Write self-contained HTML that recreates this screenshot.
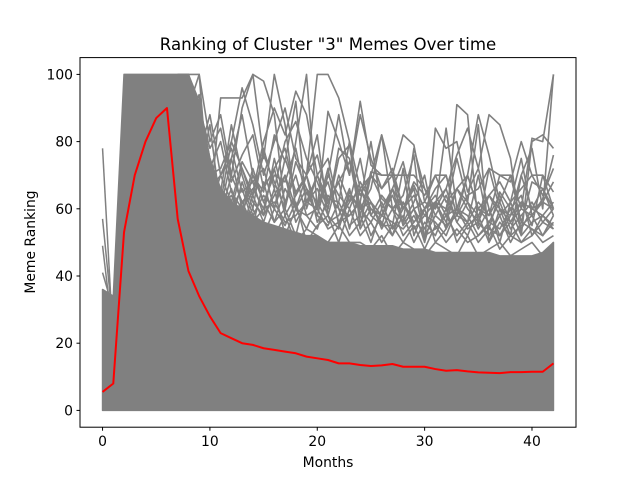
<!DOCTYPE html>
<html><head><meta charset="utf-8"><style>
body{margin:0;background:#fff;}
svg text{font-family:"DejaVu Sans","Liberation Sans",sans-serif;fill:#000;}
</style></head><body>
<svg id="chart" width="640" height="480">
<rect width="640" height="480" fill="#fff"/>
<text x="328" y="50" font-size="16.6" text-anchor="middle">Ranking of Cluster "3" Memes Over time</text>
<g id="plot"></g>
<g id="axes"></g>
<text x="328" y="467" font-size="13.9" text-anchor="middle">Months</text>
<text transform="translate(35,242) rotate(-90)" font-size="13.9" text-anchor="middle">Meme Ranking</text>
</svg>
<script>
const months=[...Array(43).keys()];
const meanRank=[5.5,8,53,70,80,87,90,57,41.5,34,28,23,21.5,20,19.5,18.5,18,17.5,17,16,15.5,15,14,14,13.5,13.2,13.4,13.8,13,13,13,12.3,11.8,12,11.6,11.3,11.2,11.1,11.4,11.4,11.5,11.5,14];
const denseUpper=[36,34,100,100,100,100,100,100,100,92,75,66,62,60,58,56,55,54,53,52,52,50,50,50,49,49,49,49,48,48,48,47,47,47,47,47,47,46,46,46,46,47,50];
const denseLower=[0,0,0,0,0,0,0,0,0,0,0,0,0,0,0,0,0,0,0,0,0,0,0,0,0,0,0,0,0,0,0,0,0,0,0,0,0,0,0,0,0,0,0];
const earlySpikes=[[78,20],[57,25],[49,22],[41,30]];
const sparseStart=8;
const sparseLines=[
[100,100,60,93,93,93,100,75,100,85,60,70,100,100,93,80,66,70,82,70,55,60,50,84,78,80,65,72,60,50,62,75,58,63,76],
[90,100,80,88,70,90,100,98,88,60,80,100,60,70,88,70,88,75,66,70,82,79,62,60,66,76,84,72,88,85,75,52,80,82,78],
[100,85,70,72,80,96,85,70,80,90,75,70,60,89,80,70,92,73,70,70,70,70,66,60,84,60,70,88,76,62,70,60,81,80,100],
[95,70,85,60,75,88,70,65,82,74,92,60,70,60,78,75,58,71,70,70,60,67,60,62,54,91,88,55,72,70,68,80,70,70,65],
[80,90,75,65,85,70,60,78,66,80,86,75,68,60,75,79,60,66,82,60,64,76,50,62,60,75,62,85,50,60,52,70,78,60,100],
[70,60,72,80,65,60,72,62,70,68,78,62,70,63,62,80,55,70,63,60,56,78,66,58,55,58,70,60,58,70,70,56,68,66,60],
[85,75,60,70,78,65,68,72,60,75,65,70,82,58,70,62,75,58,55,55,72,52,60,66,70,58,56,70,54,65,60,64,52,58,55],
[75,65,70,55,60,72,62,58,75,62,70,58,60,72,55,65,60,62,55,66,55,60,54,62,56,66,62,54,60,52,58,62,55,70,60],
[60,70,55,65,58,62,55,68,56,60,52,65,58,55,62,55,58,50,60,52,58,50,56,52,60,50,55,58,50,56,52,55,58,52,56],
[65,55,62,58,66,55,60,52,60,55,62,50,55,58,50,60,52,56,50,55,50,55,48,55,50,54,50,52,55,48,52,50,54,50,52],
[55,62,50,60,52,58,50,56,52,58,50,54,52,50,55,50,50,48,52,46,50,48,46,50,48,46,52,46,48,50,46,48,50,46,50],
[100,80,66,70,75,60,65,80,90,82,95,88,70,75,60,58,62,80,60,66,74,60,62,70,70,58,64,66,72,60,58,70,60,62,68],
[98,72,64,58,70,62,66,60,72,58,64,70,56,62,68,54,66,60,58,64,56,62,70,54,58,66,60,56,64,58,62,54,60,66,58],
[88,66,72,62,56,68,58,64,60,70,56,62,66,58,54,64,60,56,62,54,60,66,52,58,64,56,52,60,56,62,54,58,62,56,60],
[78,60,56,66,62,54,64,56,66,52,60,58,54,64,60,52,56,62,54,60,52,56,60,50,54,60,58,52,56,54,60,52,56,58,54],
[96,78,68,60,64,58,70,62,56,66,60,54,62,56,58,66,54,60,56,52,62,54,58,56,52,60,54,56,52,58,50,56,54,52,58],
[92,64,58,54,60,66,56,60,62,56,58,62,60,54,56,58,62,52,58,56,54,58,52,54,58,52,56,50,54,52,56,50,52,56,54],
[100,90,78,84,68,76,82,66,72,78,64,70,76,62,68,74,64,70,66,72,60,68,64,70,62,66,70,60,64,68,62,66,70,64,72],
[86,94,70,62,80,72,64,76,68,60,74,66,58,70,64,60,68,62,58,66,60,64,58,62,66,56,62,58,64,60,56,62,60,58,62],
[100,76,88,70,62,74,68,58,64,70,60,66,62,68,56,62,66,58,64,60,62,56,60,64,58,60,56,62,58,64,56,60,58,62,60]
];
const yTicks=[0,20,40,60,80,100];
const xTicks=[0,10,20,30,40];

const L=80,R=576,T=57.6,B=427.2;
const xMin=-2.1,xMax=44.1,yMin=-5,yMax=105;
const X=v=>L+(v-xMin)/(xMax-xMin)*(R-L);
const Y=v=>B-(v-yMin)/(yMax-yMin)*(B-T);
const NS="http://www.w3.org/2000/svg";
const plot=document.getElementById('plot'),axes=document.getElementById('axes');
function mk(tag,attrs,parent){const e=document.createElementNS(NS,tag);for(const k in attrs)e.setAttribute(k,attrs[k]);parent.appendChild(e);return e;}

let pts=months.map(m=>X(m)+','+Y(denseUpper[m]));
pts=pts.concat(months.slice().reverse().map(m=>X(m)+','+Y(denseLower[m])));
const band=mk('polygon',{points:pts.join(' '),fill:'#808080',stroke:'#808080','stroke-width':1.5,'stroke-linejoin':'round'},plot);



earlySpikes.forEach((s,i)=>{
  const p=mk('polyline',{points:X(0)+','+Y(s[0])+' '+X(1)+','+Y(s[1]),fill:'none',stroke:'#808080','stroke-width':1.5},plot);
  
  
});
sparseLines.forEach((s,i)=>{
  const arr=[denseUpper[sparseStart-1]].concat(s);
  const p=mk('polyline',{points:arr.map((v,j)=>X(sparseStart-1+j)+','+Y(v)).join(' '),fill:'none',stroke:'#808080','stroke-width':1.6,'stroke-linejoin':'round'},plot);
  
  
});
const red=mk('polyline',{points:months.map(m=>X(m)+','+Y(meanRank[m])).join(' '),fill:'none',stroke:'#ff0000','stroke-width':2,'stroke-linejoin':'round'},plot);



const frame=mk('rect',{x:L,y:T,width:R-L,height:B-T,fill:'none',stroke:'#000','stroke-width':1},axes);


yTicks.forEach(t=>{
  mk('line',{x1:L-3.5,x2:L,y1:Y(t),y2:Y(t),stroke:'#000'},axes);
  const tx=mk('text',{x:L-7,y:Y(t)+5,'font-size':13.9,'text-anchor':'end'},axes);tx.textContent=t;
  
  
});
xTicks.forEach(t=>{
  mk('line',{x1:X(t),x2:X(t),y1:B,y2:B+3.5,stroke:'#000'},axes);
  const tx=mk('text',{x:X(t),y:B+19,'font-size':13.9,'text-anchor':'middle'},axes);tx.textContent=t;
  
  
});
</script>
</body></html>
